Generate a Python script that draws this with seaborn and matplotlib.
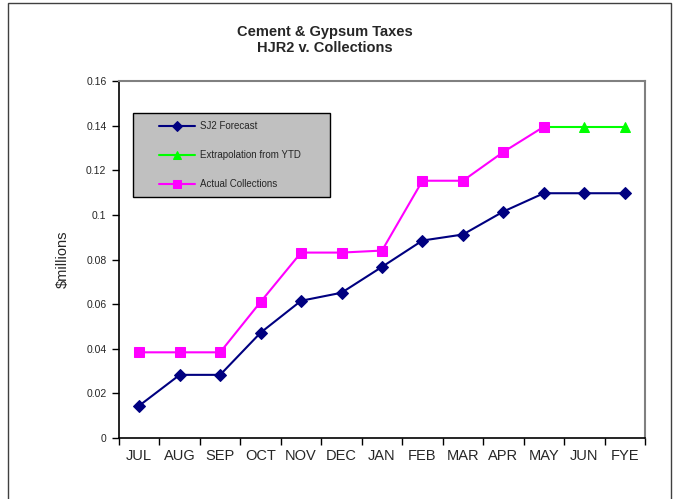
import numpy as np
import pandas as pd
import matplotlib
matplotlib.use("Agg")
import matplotlib.pyplot as plt
from matplotlib.patches import Rectangle
import seaborn as sns

# datos
meses = ["JUL", "AUG", "SEP", "OCT", "NOV", "DEC", "JAN",
         "FEB", "MAR", "APR", "MAY", "JUN", "FYE"]
sj2_forecast = [0.0145, 0.0283, 0.0283, 0.0472, 0.0615, 0.0651, 0.0767,
                0.0885, 0.0912, 0.1015, 0.1097, 0.1097, 0.1097]
meses_extrap = ["MAY", "JUN", "FYE"]
extrapolacion = [0.1395, 0.1395, 0.1395]
meses_actual = ["JUL", "AUG", "SEP", "OCT", "NOV", "DEC", "JAN",
                "FEB", "MAR", "APR", "MAY"]
actual = [0.0384, 0.0384, 0.0384, 0.0610, 0.0831, 0.0831, 0.0840,
          0.1153, 0.1153, 0.1282, 0.1395]
y_ticks = [0, 0.02, 0.04, 0.06, 0.08, 0.1, 0.12, 0.14, 0.16]
y_labels = ["0", "0.02", "0.04", "0.06", "0.08", "0.1", "0.12", "0.14", "0.16"]

sns.set_theme(style="white")
plt.rcParams["font.family"] = ["Liberation Sans", "DejaVu Sans"]

pos = {m: i for i, m in enumerate(meses)}
df_sj2 = pd.DataFrame({"x": [pos[m] for m in meses], "valor": sj2_forecast})
df_ext = pd.DataFrame({"x": [pos[m] for m in meses_extrap], "valor": extrapolacion})
df_act = pd.DataFrame({"x": [pos[m] for m in meses_actual], "valor": actual})

fig = plt.figure(figsize=(6.73, 4.99), dpi=100)
ax = fig.add_axes([119 / 673, 61 / 499, 526 / 673, 357 / 499])

sns.lineplot(data=df_sj2, x="x", y="valor", color="#000080", marker="D",
             markersize=6.5, markeredgecolor="#000080", linewidth=1.5,
             label="SJ2 Forecast", ax=ax, zorder=3)
sns.lineplot(data=df_ext, x="x", y="valor", color="#00FF00", marker="^",
             markersize=7.5, markeredgecolor="#00FF00", linewidth=1.5,
             label="Extrapolation from YTD", ax=ax, zorder=3)
sns.lineplot(data=df_act, x="x", y="valor", color="#FF00FF", marker="s",
             markersize=7.5, markeredgecolor="#FF00FF", linewidth=1.5,
             label="Actual Collections", ax=ax, zorder=4)

# ejes estilo Excel
ax.set_xlim(-0.5, len(meses) - 0.5)
ax.set_ylim(0, 0.16)
ax.set_yticks(y_ticks)
ax.set_yticklabels(y_labels, fontsize=7.5)
ax.set_xticks(np.arange(-0.5, len(meses), 1.0))
ax.set_xticklabels([])
ax.set_xticks(np.arange(len(meses)), minor=True)
ax.set_xticklabels(meses, minor=True, fontsize=10.5)
ax.tick_params(axis="x", which="major", direction="out", length=5, width=1,
               color="black", bottom=True)
ax.tick_params(axis="x", which="minor", length=0, pad=8)
ax.tick_params(axis="y", direction="out", length=5, width=1, color="black",
               left=True, pad=4)
ax.set_xlabel("")
ax.set_ylabel(r"\$millions", fontsize=10.5, labelpad=12)
for lado in ["left", "bottom"]:
    ax.spines[lado].set_color("black")
    ax.spines[lado].set_linewidth(1.2)
for lado in ["top", "right"]:
    ax.spines[lado].set_color("#808080")
    ax.spines[lado].set_linewidth(1.5)

# leyenda con caja gris
caja = Rectangle((14 / 526, 1 - 116 / 357), 197 / 526, 84 / 357,
                 transform=ax.transAxes, facecolor="#C0C0C0",
                 edgecolor="black", linewidth=1, zorder=5)
ax.add_patch(caja)
leg = ax.legend(loc="upper left", bbox_to_anchor=(40 / 526, 1 - 40 / 357),
                frameon=False, fontsize=7, handlelength=3.7, markerscale=0.75,
                handletextpad=0.5, labelspacing=1.95, borderpad=0,
                borderaxespad=0)
leg.set_zorder(6)

fig.text(325 / 673, 1 - 32 / 499, "Cement & Gypsum Taxes", ha="center",
         va="center", fontsize=10.5, fontweight="bold")
fig.text(325 / 673, 1 - 48 / 499, "HJR2 v. Collections", ha="center",
         va="center", fontsize=10.5, fontweight="bold")

# marco exterior del grafico
marco = Rectangle((8 / 673, -0.1), 663 / 673, 1.1 - 3 / 499,
                  transform=fig.transFigure, facecolor="none",
                  edgecolor="#404040", linewidth=1, clip_on=False)
fig.patches.append(marco)

fig.savefig("out.png", dpi=100)
